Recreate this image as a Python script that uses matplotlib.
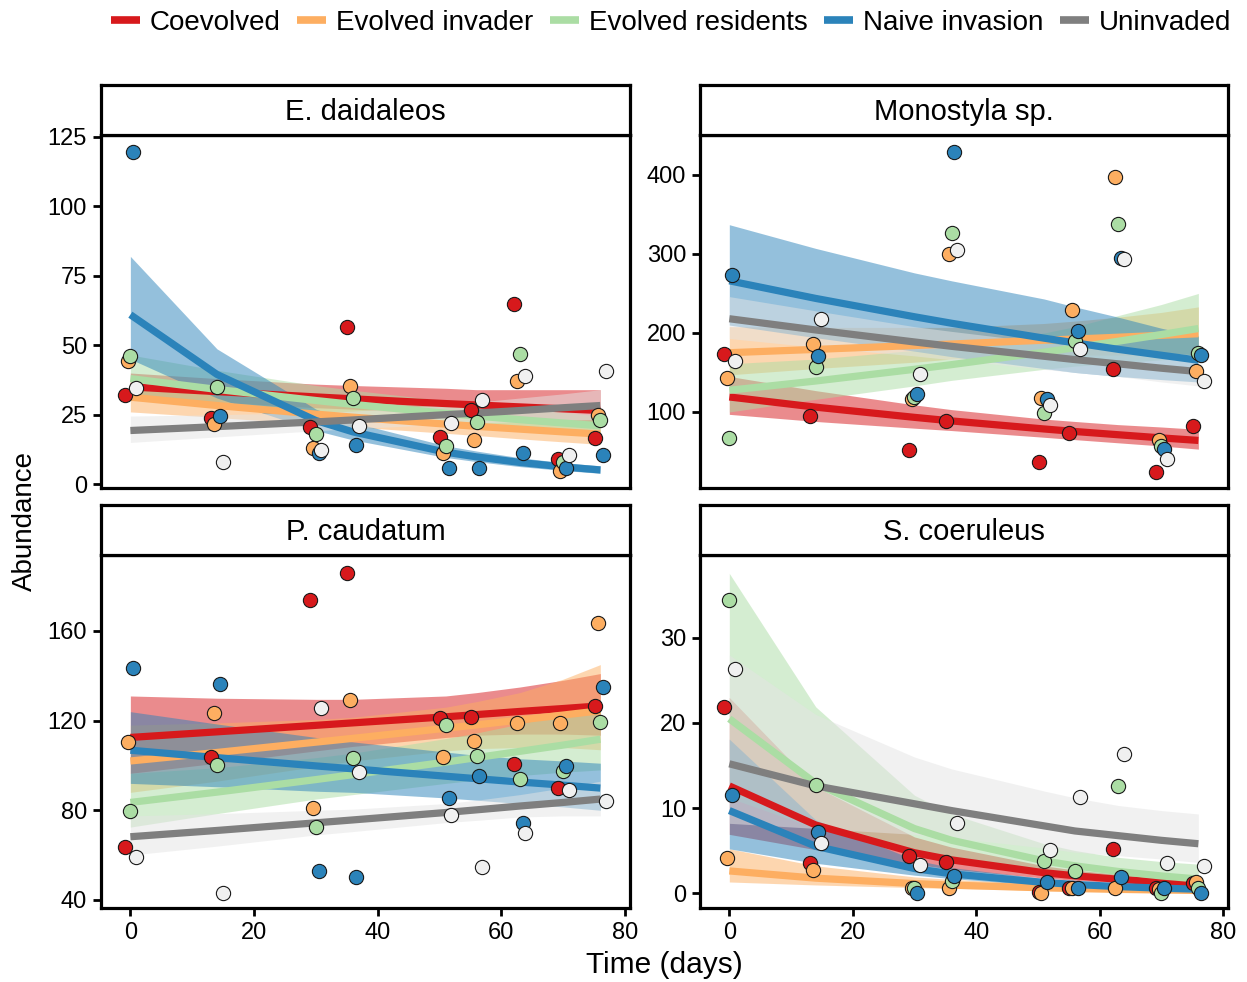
import matplotlib
matplotlib.use('Agg')
import matplotlib.pyplot as plt
from matplotlib.lines import Line2D

plt.rcParams['font.family'] = ['Liberation Sans', 'DejaVu Sans']

# ---------------- data ----------------
treatments = ['Coevolved', 'Evolved invader', 'Evolved residents', 'Naive invasion', 'Uninvaded']
species = ['E. daidaleos', 'Monostyla sp.', 'P. caudatum', 'S. coeruleus']
days = [0, 14, 30, 36, 51, 56, 63, 70, 76]

# observed abundances (one per treatment per day)
edai_points = {
    'Coevolved':         [32.1, 23.8, 20.7, 56.6, 16.8, 26.7, 64.7, 9.0, 16.5],
    'Evolved invader':   [44.5, 21.7, 13.0, 35.5, 11.1, 16.0, 37.1, 4.6, 25.0],
    'Evolved residents': [46.0, 34.9, 18.0, 31.0, 13.8, 22.5, 46.7, 8.1, 23.1],
    'Naive invasion':    [119.7, 24.4, 11.1, 14.2, 5.8, 5.8, 11.1, 5.8, 10.6],
    'Uninvaded':         [34.5, 7.8, 12.3, 20.8, 21.9, 30.3, 38.9, 10.5, 40.7],
}
mono_points = {
    'Coevolved':         [173.1, 94.9, 51.4, 88.2, 36.6, 73.4, 154.9, 24.0, 81.8],
    'Evolved invader':   [143.1, 185.8, 116.9, 299.8, 117.7, 228.9, 397.8, 64.9, 152.0],
    'Evolved residents': [67.5, 157.0, 119.0, 326.0, 98.7, 190.0, 337.8, 56.5, 175.2],
    'Naive invasion':    [273.2, 170.6, 122.4, 429.5, 116.9, 202.7, 295.2, 53.5, 172.7],
    'Uninvaded':         [164.2, 217.4, 147.7, 304.9, 109.3, 180.3, 293.0, 40.9, 138.9],
}
pcau_points = {
    'Coevolved':         [63.5, 103.6, 173.8, 186.0, 121.0, 121.8, 100.6, 89.9, 126.4],
    'Evolved invader':   [110.5, 123.2, 81.0, 129.3, 103.9, 111.0, 118.9, 118.9, 163.7],
    'Evolved residents': [79.8, 100.3, 72.7, 103.3, 118.1, 104.3, 93.9, 97.6, 119.6],
    'Naive invasion':    [143.4, 136.5, 52.8, 50.4, 85.4, 95.4, 74.3, 99.6, 135.1],
    'Uninvaded':         [59.3, 43.1, 125.8, 97.3, 78.0, 54.6, 69.9, 89.2, 84.0],
}
scoe_points = {
    'Coevolved':         [21.9, 3.5, 4.3, 3.7, 0.1, 0.6, 5.2, 0.6, 1.2],
    'Evolved invader':   [4.1, 2.7, 0.6, 0.6, 0.0, 0.6, 0.6, 0.5, 1.3],
    'Evolved residents': [34.5, 12.7, 0.6, 1.4, 3.8, 2.6, 12.6, 0.0, 0.6],
    'Naive invasion':    [11.5, 7.2, 0.0, 2.0, 1.3, 0.6, 1.9, 0.6, 0.0],
    'Uninvaded':         [26.3, 5.9, 3.3, 8.2, 5.1, 11.3, 16.3, 3.5, 3.2],
}

# model predictions (fit, lower, upper) at each sampling day
edai_fit = {
    'Coevolved':         [35, 33.3, 31.4, 30.7, 29.0, 28.5, 27.8, 27.1, 26.5],
    'Evolved invader':   [31.3, 28.3, 25.2, 24.1, 21.6, 20.8, 19.8, 18.8, 18.0],
    'Evolved residents': [38, 34.1, 30.1, 28.7, 25.5, 24.5, 23.2, 22.0, 21.0],
    'Naive invasion':    [61, 39.5, 22.9, 18.8, 11.5, 9.8, 7.8, 6.2, 5.1],
    'Uninvaded':         [19.3, 20.7, 22.4, 23.1, 25.0, 25.6, 26.5, 27.5, 28.3],
}
edai_lo = {
    'Coevolved':         [30.5, 29.5, 27.5, 27, 25, 24.5, 23.5, 22.5, 21],
    'Evolved invader':   [26, 24, 21.5, 20.6, 18.3, 17.5, 16.3, 15.2, 14.3],
    'Evolved residents': [31, 28.3, 25.5, 24.4, 21.7, 20.8, 19.6, 18.7, 18],
    'Naive invasion':    [45, 31, 19.3, 15.9, 9.6, 8.1, 6.3, 4.9, 3.9],
    'Uninvaded':         [15, 17, 19.2, 20, 21.5, 22, 22.5, 23, 23.3],
}
edai_hi = {
    'Coevolved':         [40, 38, 36, 35.5, 34.5, 34, 34, 34, 34],
    'Evolved invader':   [37.5, 33.5, 29.5, 28.2, 25.5, 24.8, 23.9, 23.3, 22.9],
    'Evolved residents': [46.5, 41, 35.5, 33.8, 30, 28.9, 27.4, 25.9, 24.5],
    'Naive invasion':    [82, 48.7, 27, 22.2, 13.8, 11.9, 9.5, 7.7, 6.6],
    'Uninvaded':         [24.5, 25, 25.8, 26.3, 28.5, 29.5, 31, 32.5, 34],
}
mono_fit = {
    'Coevolved':         [119, 106.1, 93.2, 88.7, 78.5, 75.3, 71.2, 67.2, 64],
    'Evolved invader':   [175, 179.2, 184.1, 186, 190.8, 192.3, 194.6, 197, 199],
    'Evolved residents': [127.5, 139.2, 154, 159.9, 175.7, 181.3, 189.5, 198, 205.6],
    'Naive invasion':    [266, 243.7, 220.5, 212.3, 193.4, 187.5, 179.3, 171.8, 165.5],
    'Uninvaded':         [218, 203.8, 188.6, 183.1, 170.5, 166.3, 160.9, 155.4, 151.1],
}
mono_lo = {
    'Coevolved':         [97, 88, 79.5, 76.5, 68, 65, 61, 57, 53],
    'Evolved invader':   [147, 155, 163, 167, 171, 172, 172, 172, 170],
    'Evolved residents': [100, 116, 133, 140, 154, 158, 162, 166, 169],
    'Naive invasion':    [210, 194, 177, 170, 155, 150, 145, 141, 138],
    'Uninvaded':         [193, 182, 171, 166, 154, 150, 145, 138, 133],
}
mono_hi = {
    'Coevolved':         [145, 127, 109, 103, 91, 88, 84, 81, 78],
    'Evolved invader':   [208, 207, 207, 207, 212, 215, 220, 226, 233],
    'Evolved residents': [161, 167, 178, 182, 200, 208, 222, 236, 250],
    'Naive invasion':    [337, 307, 276, 266, 243, 233, 220, 206, 196],
    'Uninvaded':         [246, 228, 208, 202, 188, 184, 179, 175, 172],
}
pcau_fit = {
    'Coevolved':         [112.5, 115, 117.9, 119, 121.7, 122.7, 124.1, 125.4, 126.6],
    'Evolved invader':   [102, 105.8, 110.4, 112.1, 116.6, 118.1, 120.3, 122.5, 124.4],
    'Evolved residents': [83.5, 88.1, 93.7, 95.9, 101.5, 103.5, 106.3, 109.1, 111.7],
    'Naive invasion':    [106.8, 103.5, 99.8, 98.5, 95.2, 94.1, 92.6, 91.2, 89.9],
    'Uninvaded':         [68.2, 71, 74.4, 75.7, 79, 80.2, 81.9, 83.5, 85],
}
pcau_lo = {
    'Coevolved':         [96.5, 101, 106.5, 108.5, 112.5, 113.5, 114, 114, 113.5],
    'Evolved invader':   [88, 93, 99.5, 102, 106.5, 107.5, 108, 108, 107],
    'Evolved residents': [72.5, 78.5, 85, 87, 92, 93.5, 95.5, 97, 98],
    'Naive invasion':    [92, 90.5, 88.5, 88, 85.5, 84.5, 83, 81.5, 80],
    'Uninvaded':         [60, 64, 69, 70.5, 74.5, 75.5, 77, 77.5, 77.5],
}
pcau_hi = {
    'Coevolved':         [131, 130, 129.5, 129.5, 131, 132.5, 135, 138, 141],
    'Evolved invader':   [118, 119, 120.5, 121.5, 126, 128.5, 132.5, 138.5, 145],
    'Evolved residents': [96.5, 99, 103.5, 105.5, 112, 114.5, 118.5, 123, 127],
    'Naive invasion':    [124, 118.5, 112.5, 110.5, 106, 104.5, 103, 102, 101],
    'Uninvaded':         [77.5, 78.5, 80, 80.5, 83, 84.5, 87, 90, 93],
}
scoe_fit = {
    'Coevolved':         [12.6, 8.0, 4.74, 3.9, 2.39, 2.03, 1.62, 1.29, 1.06],
    'Evolved invader':   [2.6, 1.75, 1.11, 0.93, 0.61, 0.53, 0.43, 0.36, 0.3],
    'Evolved residents': [20.5, 12.9, 7.58, 6.21, 3.78, 3.2, 2.54, 2.01, 1.65],
    'Naive invasion':    [9.7, 5.5, 2.88, 2.26, 1.24, 1.01, 0.76, 0.57, 0.45],
    'Uninvaded':         [15.2, 12.6, 10.5, 9.7, 7.9, 7.3, 6.75, 6.2, 5.8],
}
scoe_lo = {
    'Coevolved':         [6.9, 5.1, 3.4, 2.8, 1.75, 1.5, 1.2, 0.9, 0.67],
    'Evolved invader':   [1.3, 0.95, 0.64, 0.54, 0.34, 0.29, 0.22, 0.17, 0.12],
    'Evolved residents': [11.2, 7.6, 5, 4.2, 2.5, 2.05, 1.55, 1.1, 0.8],
    'Naive invasion':    [5.2, 3.5, 2.1, 1.7, 0.9, 0.72, 0.52, 0.37, 0.27],
    'Uninvaded':         [8.2, 7.6, 6.9, 6.5, 5.3, 4.8, 4.4, 4, 3.6],
}
scoe_hi = {
    'Coevolved':         [23, 12.5, 6.6, 5.4, 3.2, 2.7, 2.2, 1.9, 1.65],
    'Evolved invader':   [5.2, 3.2, 1.9, 1.6, 1.1, 0.95, 0.85, 0.8, 0.75],
    'Evolved residents': [37.6, 21.9, 11.5, 9.3, 5.8, 5, 4.2, 3.7, 3.4],
    'Naive invasion':    [18.1, 8.6, 3.9, 3.0, 1.7, 1.4, 1.1, 0.9, 0.8],
    'Uninvaded':         [28, 21, 16, 14.6, 12, 11.2, 10.3, 9.7, 9.3],
}

xticks = [0, 20, 40, 60, 80]
yticks = [[0, 25, 50, 75, 100, 125], [100, 200, 300, 400], [40, 80, 120, 160], [0, 10, 20, 30]]

# ---------------- style ----------------
line_colors = ['#d7191c', '#fdae61', '#abdda4', '#2b83ba', '#7f7f7f']
fill_colors = ['#d7191c', '#fdae61', '#abdda4', '#2b83ba', '#e4e4e4']
point_colors = ['#d7191c', '#fdae61', '#abdda4', '#2b83ba', '#f0f0f0']
dodge = [-0.9, -0.45, 0.0, 0.45, 0.9]

W, H = 1247, 982
fig = plt.figure(figsize=(W / 100, H / 100), dpi=100)

panel_px = [(101, 135, 630, 488), (700, 135, 1228, 488),
            (101, 555, 630, 908), (700, 555, 1228, 908)]
ylims = [(-1.4, 125.7), (3.8, 450.5), (36.4, 193.9), (-1.76, 39.76)]
xlim = (-4.75, 80.8)

panels = [
    (edai_points, edai_fit, edai_lo, edai_hi),
    (mono_points, mono_fit, mono_lo, mono_hi),
    (pcau_points, pcau_fit, pcau_lo, pcau_hi),
    (scoe_points, scoe_fit, scoe_lo, scoe_hi),
]

for i, (pts, fit, lo, hi) in enumerate(panels):
    x0, y0, x1, y1 = panel_px[i]
    ax = fig.add_axes([x0 / W, 1 - y1 / H, (x1 - x0) / W, (y1 - y0) / H])
    for k, t in enumerate(treatments):
        ax.fill_between(days, lo[t], hi[t], color=fill_colors[k], alpha=0.5,
                        linewidth=0, zorder=1 + k * 0.01)
    for k, t in enumerate(treatments):
        ax.plot(days, fit[t], color=line_colors[k], lw=5.2, solid_capstyle='butt',
                zorder=2 + k * 0.01)
    for k, t in enumerate(treatments):
        xs = [d + dodge[k] for d in days]
        ax.scatter(xs, pts[t], s=105, facecolor=point_colors[k], edgecolor='#1a1a1a',
                   linewidth=0.8, zorder=3 + k * 0.01)
    ax.set_xlim(*xlim)
    ax.set_ylim(*ylims[i])
    ax.set_yticks(yticks[i])
    for sp in ax.spines.values():
        sp.set_linewidth(2.3)
        sp.set_color('black')
    ax.tick_params(axis='both', length=6, width=2, labelsize=17, colors='black', pad=4)
    ax.set_xticks(xticks)
    if i < 2:
        ax.tick_params(axis='x', bottom=False, labelbottom=False)
    # strip
    sax = fig.add_axes([x0 / W, 1 - y0 / H, (x1 - x0) / W, 50 / H])
    sax.set_xticks([])
    sax.set_yticks([])
    for sp in sax.spines.values():
        sp.set_linewidth(2.3)
        sp.set_color('black')
    sax.text(0.5, 0.47, species[i], ha='center', va='center', fontsize=21,
             transform=sax.transAxes)

fig.text(664 / W, 1 - 965 / H, 'Time (days)', ha='center', va='center', fontsize=21.5)
fig.text(25 / W, 1 - 521 / H, 'Abundance', ha='center', va='center', fontsize=20,
         rotation=90)

handles = [Line2D([0], [0], color=c, lw=5.5, solid_capstyle='butt') for c in line_colors]
fig.legend(handles, treatments, loc='center', bbox_to_anchor=(671 / W, 1 - 23 / H),
           ncol=5, frameon=False, fontsize=20, handlelength=1.05, handletextpad=0.35,
           columnspacing=0.6, borderpad=0, borderaxespad=0)

fig.savefig('out.png', dpi=100)
